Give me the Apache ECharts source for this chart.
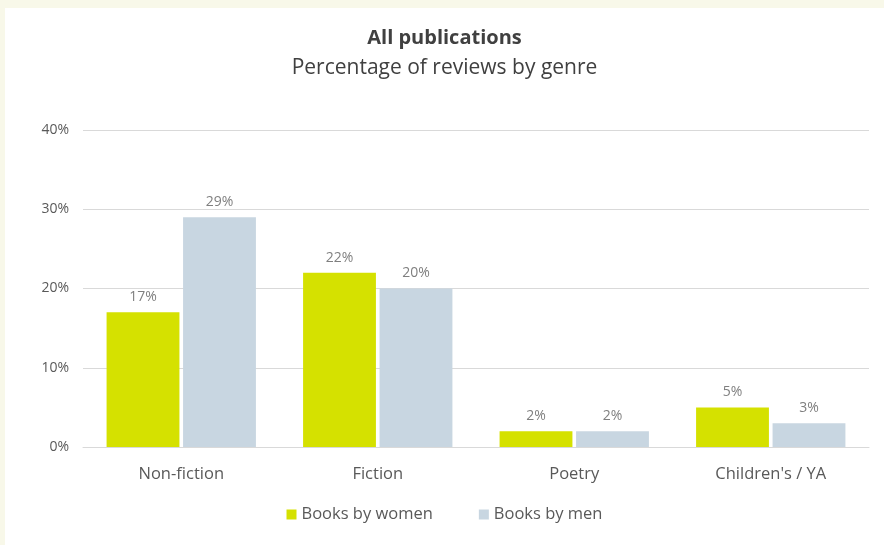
<!DOCTYPE html>
<html>
<head>
<meta charset="utf-8">
<script src="https://cdn.jsdelivr.net/npm/echarts@6/dist/echarts.min.js"></script>
<style>
  html, body { margin: 0; padding: 0; background: #f8f8e9; }
  #wrap { position: absolute; left: 5px; top: 8px; right: 0; bottom: 0; background: #ffffff; }
  #chart { width: 879px; height: 537px; }
</style>
</head>
<body>
<div id="wrap"><div id="chart"></div></div>
<script>
// Share of reviews by genre, split by author gender
const genres = ['Non-fiction', 'Fiction', 'Poetry', "Children's / YA"];
const booksByWomen = [17, 22, 2, 5];
const booksByMen = [29, 20, 2, 3];
const yTicks = [0, 10, 20, 30, 40];

const FONT = '"Open Sans", sans-serif';

const labelStyle = {
  show: true,
  position: 'top',
  distance: 8,
  formatter: p => p.value + '%',
  color: '#7f7f7f',
  fontSize: 14,
  fontFamily: FONT
};

const chart = echarts.init(document.getElementById('chart'));
chart.setOption({
  animation: false,
  title: {
    text: 'All publications',
    subtext: 'Percentage of reviews by genre',
    left: 'center',
    top: 15,
    itemGap: 10,
    textStyle: { fontSize: 20, fontWeight: 'bold', color: '#404040', fontFamily: FONT },
    subtextStyle: { fontSize: 21, color: '#404040', fontFamily: FONT }
  },
  legend: {
    bottom: 17,
    left: 'center',
    itemWidth: 10,
    itemHeight: 10,
    itemGap: 46,
    icon: 'rect',
    textStyle: { fontSize: 16.5, color: '#595959', fontFamily: FONT }
  },
  grid: { left: 78, right: 15, top: 122, bottom: 98 },
  xAxis: {
    type: 'category',
    data: genres,
    axisTick: { show: false },
    axisLine: { lineStyle: { color: '#d9d9d9', width: 1 } },
    axisLabel: { color: '#595959', fontSize: 16.5, margin: 19, fontFamily: FONT }
  },
  yAxis: {
    type: 'value',
    min: yTicks[0],
    max: yTicks[yTicks.length - 1],
    interval: 10,
    axisLine: { show: false },
    axisTick: { show: false },
    splitLine: { lineStyle: { color: '#d9d9d9', width: 1 } },
    axisLabel: { formatter: '{value}%', color: '#595959', fontSize: 14, margin: 14, fontFamily: FONT }
  },
  series: [
    {
      name: 'Books by women',
      type: 'bar',
      data: booksByWomen,
      itemStyle: { color: '#d5e100' },
      barGap: '5%',
      barCategoryGap: '24%',
      label: labelStyle
    },
    {
      name: 'Books by men',
      type: 'bar',
      data: booksByMen,
      itemStyle: { color: '#c8d6e1' },
      label: labelStyle
    }
  ]
});
</script>
</body>
</html>
